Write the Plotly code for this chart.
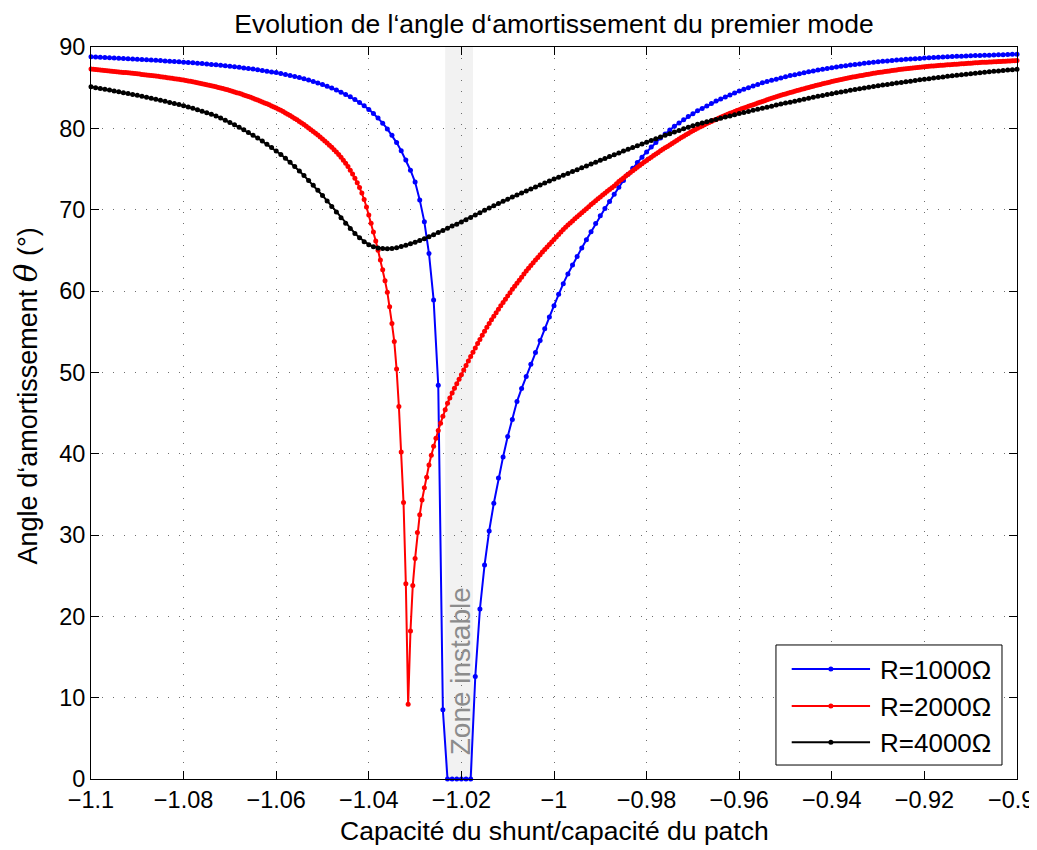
import numpy as np
import plotly.graph_objects as go

# abscissa grid: capacite du shunt / capacite du patch
X_START = -1.1
STEP = 0.001          # R=1000 and R=4000 curves
STEP_FINE = 0.0005    # R=2000 curve is sampled twice as finely

# damping angle (deg), R = 1000 Ohm
blue = [
    88.80, 88.77, 88.74, 88.71, 88.68, 88.65, 88.62, 88.59, 88.56, 88.53,
    88.50, 88.47, 88.43, 88.40, 88.36, 88.33, 88.29, 88.25, 88.21, 88.18,
    88.14, 88.10, 88.05, 88.01, 87.96, 87.91, 87.86, 87.81, 87.75, 87.69,
    87.63, 87.57, 87.50, 87.43, 87.36, 87.28, 87.20, 87.12, 87.03, 86.94,
    86.85, 86.74, 86.63, 86.51, 86.38, 86.24, 86.09, 85.93, 85.76, 85.58,
    85.38, 85.17, 84.95, 84.71, 84.45, 84.17, 83.87, 83.54, 83.18, 82.78,
    82.33, 81.83, 81.27, 80.64, 79.93, 79.14, 78.25, 77.25, 76.12, 74.85,
    73.40, 71.20, 68.50, 64.60, 58.90, 48.40, 8.50, 0.0, 0.0, 0.0,
    0.0, 0.0, 0.0, 12.60, 20.90, 26.30, 30.50, 33.90, 37.00, 39.60,
    42.10, 44.20, 46.40, 48.00, 49.50, 51.00, 52.45, 53.90, 55.35, 56.80,
    58.20, 59.60, 60.90, 62.10, 63.20, 64.25, 65.30, 66.30, 67.30, 68.30,
    69.25, 70.15, 71.00, 71.90, 72.75, 73.60, 74.35, 75.10, 75.80, 76.45,
    77.10, 77.70, 78.25, 78.80, 79.30, 79.80, 80.25, 80.65, 81.05, 81.45,
    81.80, 82.15, 82.45, 82.75, 83.05, 83.35, 83.60, 83.85, 84.10, 84.35,
    84.60, 84.80, 85.00, 85.20, 85.40, 85.60, 85.75, 85.90, 86.05, 86.20,
    86.35, 86.50, 86.60, 86.72, 86.84, 86.95, 87.06, 87.16, 87.26, 87.36,
    87.45, 87.54, 87.62, 87.70, 87.78, 87.85, 87.92, 87.99, 88.06, 88.12,
    88.18, 88.24, 88.29, 88.34, 88.39, 88.44, 88.48, 88.52, 88.56, 88.60,
    88.64, 88.67, 88.70, 88.73, 88.76, 88.79, 88.82, 88.85, 88.87, 88.90,
    88.92, 88.94, 88.96, 88.98, 89.00, 89.02, 89.04, 89.06, 89.08, 89.10,
    89.12,
]

# damping angle (deg), R = 2000 Ohm
red = [
    87.30, 87.27, 87.24, 87.21, 87.18, 87.15, 87.12, 87.09, 87.06, 87.03,
    87.00, 86.97, 86.94, 86.91, 86.88, 86.85, 86.82, 86.79, 86.76, 86.73,
    86.70, 86.67, 86.63, 86.60, 86.56, 86.53, 86.49, 86.46, 86.42, 86.39,
    86.35, 86.31, 86.27, 86.23, 86.19, 86.15, 86.11, 86.07, 86.02, 85.98,
    85.93, 85.88, 85.83, 85.78, 85.72, 85.67, 85.61, 85.55, 85.49, 85.43,
    85.37, 85.31, 85.24, 85.17, 85.10, 85.03, 84.96, 84.89, 84.81, 84.73,
    84.65, 84.57, 84.48, 84.39, 84.30, 84.21, 84.11, 84.01, 83.91, 83.81,
    83.70, 83.59, 83.48, 83.37, 83.25, 83.13, 83.01, 82.89, 82.76, 82.63,
    82.50, 82.36, 82.21, 82.06, 81.90, 81.74, 81.57, 81.40, 81.22, 81.04,
    80.85, 80.66, 80.46, 80.26, 80.05, 79.84, 79.62, 79.40, 79.17, 78.93,
    78.69, 78.44, 78.19, 77.93, 77.66, 77.38, 77.08, 76.77, 76.44, 76.09,
    75.72, 75.32, 74.85, 74.38, 73.87, 73.32, 72.72, 72.05, 71.25, 70.32,
    69.35, 68.32, 67.25, 66.15, 65.00, 63.82, 62.60, 61.25, 59.85, 58.05,
    56.00, 53.80, 50.40, 45.80, 40.20, 34.00, 24.00, 9.20, 18.20, 23.80,
    27.10, 30.30, 32.50, 34.30, 35.80, 37.10, 38.60, 39.80, 40.90, 41.90,
    42.85, 43.75, 44.60, 45.40, 46.20, 46.85, 47.45, 48.05, 48.60, 49.15,
    49.70, 50.28, 50.85, 51.40, 51.95, 52.48, 53.00, 53.53, 54.05, 54.55,
    55.05, 55.53, 56.00, 56.45, 56.90, 57.33, 57.75, 58.18, 58.60, 59.00,
    59.40, 59.80, 60.20, 60.58, 60.95, 61.33, 61.70, 62.08, 62.45, 62.80,
    63.15, 63.48, 63.80, 64.13, 64.45, 64.78, 65.10, 65.41, 65.72, 66.03,
    66.34, 66.65, 66.95, 67.25, 67.55, 67.83, 68.10, 68.36, 68.62, 68.87,
    69.12, 69.37, 69.62, 69.87, 70.12, 70.37, 70.62, 70.86, 71.10, 71.33,
    71.56, 71.79, 72.02, 72.25, 72.47, 72.69, 72.91, 73.18, 73.45, 73.68,
    73.90, 74.13, 74.35, 74.58, 74.80, 75.01, 75.22, 75.43, 75.64, 75.85,
    76.05, 76.25, 76.45, 76.65, 76.85, 77.04, 77.23, 77.42, 77.60, 77.78,
    77.96, 78.14, 78.32, 78.50, 78.68, 78.86, 79.03, 79.20, 79.37, 79.54,
    79.70, 79.85, 80.00, 80.15, 80.30, 80.44, 80.58, 80.72, 80.85, 80.98,
    81.10, 81.23, 81.35, 81.48, 81.60, 81.72, 81.84, 81.96, 82.07, 82.19,
    82.30, 82.40, 82.50, 82.60, 82.70, 82.80, 82.90, 83.00, 83.10, 83.20,
    83.30, 83.40, 83.50, 83.60, 83.70, 83.79, 83.88, 83.97, 84.06, 84.15,
    84.23, 84.32, 84.40, 84.48, 84.56, 84.64, 84.72, 84.80, 84.88, 84.96,
    85.03, 85.11, 85.18, 85.26, 85.33, 85.40, 85.47, 85.54, 85.61, 85.68,
    85.75, 85.82, 85.88, 85.94, 86.00, 86.06, 86.12, 86.18, 86.24, 86.30,
    86.35, 86.41, 86.46, 86.51, 86.56, 86.61, 86.66, 86.71, 86.76, 86.81,
    86.85, 86.90, 86.94, 86.98, 87.02, 87.06, 87.10, 87.14, 87.18, 87.22,
    87.25, 87.29, 87.32, 87.36, 87.39, 87.42, 87.45, 87.48, 87.51, 87.54,
    87.57, 87.60, 87.62, 87.65, 87.67, 87.70, 87.72, 87.75, 87.77, 87.79,
    87.81, 87.83, 87.85, 87.87, 87.89, 87.91, 87.93, 87.95, 87.97, 87.99,
    88.01, 88.03, 88.05, 88.07, 88.09, 88.11, 88.12, 88.14, 88.15, 88.17,
    88.18, 88.20, 88.21, 88.23, 88.24, 88.26, 88.27, 88.29, 88.30, 88.32,
    88.33,
]

# damping angle (deg), R = 4000 Ohm
black = [
    85.10, 85.00, 84.90, 84.80, 84.70, 84.60, 84.50, 84.39, 84.28, 84.17,
    84.06, 83.94, 83.82, 83.70, 83.58, 83.45, 83.32, 83.19, 83.06, 82.92,
    82.78, 82.62, 82.46, 82.29, 82.11, 81.93, 81.74, 81.52, 81.27, 81.00,
    80.72, 80.43, 80.13, 79.82, 79.50, 79.16, 78.80, 78.43, 78.04, 77.64,
    77.22, 76.78, 76.31, 75.82, 75.30, 74.76, 74.19, 73.60, 73.00, 72.38,
    71.74, 71.08, 70.40, 69.70, 69.00, 68.32, 67.68, 67.08, 66.54, 66.07,
    65.70, 65.45, 65.30, 65.22, 65.20, 65.24, 65.33, 65.46, 65.62, 65.80,
    66.00, 66.21, 66.43, 66.67, 66.92, 67.18, 67.45, 67.72, 67.98, 68.22,
    68.47, 68.75, 69.05, 69.34, 69.63, 69.92, 70.20, 70.48, 70.75, 71.02,
    71.29, 71.55, 71.80, 72.05, 72.30, 72.55, 72.80, 73.04, 73.28, 73.52,
    73.76, 74.00, 74.23, 74.46, 74.69, 74.92, 75.15, 75.38, 75.61, 75.84,
    76.07, 76.30, 76.53, 76.76, 76.98, 77.20, 77.42, 77.64, 77.86, 78.08,
    78.30, 78.51, 78.72, 78.93, 79.14, 79.34, 79.54, 79.74, 79.94, 80.14,
    80.33, 80.50, 80.65, 80.80, 80.95, 81.10, 81.25, 81.39, 81.53, 81.67,
    81.81, 81.95, 82.08, 82.21, 82.34, 82.47, 82.60, 82.73, 82.86, 82.98,
    83.10, 83.22, 83.34, 83.46, 83.58, 83.70, 83.82, 83.93, 84.04, 84.15,
    84.26, 84.37, 84.47, 84.57, 84.67, 84.77, 84.87, 84.96, 85.05, 85.14,
    85.23, 85.32, 85.40, 85.48, 85.56, 85.64, 85.72, 85.80, 85.88, 85.96,
    86.04, 86.11, 86.18, 86.25, 86.32, 86.39, 86.46, 86.53, 86.60, 86.66,
    86.72, 86.78, 86.84, 86.90, 86.96, 87.01, 87.06, 87.11, 87.16, 87.21,
    87.26,
]

series_names = ["R=1000Ω", "R=2000Ω", "R=4000Ω"]
series_colors = ["#0000ff", "#ff0000", "#000000"]

unstable_zone = [-1.0235, -1.0175]

x_ticks = [-1.1, -1.08, -1.06, -1.04, -1.02, -1.0, -0.98, -0.96, -0.94, -0.92, -0.9]
x_tick_text = ["−1.1", "−1.08", "−1.06", "−1.04", "−1.02", "−1",
               "−0.98", "−0.96", "−0.94", "−0.92", "−0.9"]
y_ticks = [0, 10, 20, 30, 40, 50, 60, 70, 80, 90]

FONT = "Liberation Sans, Arial, Helvetica, sans-serif"
TICK_SIZE = 23.5

# the page body adds an 8px margin, so the figure is 8px smaller than the window
FIG_W, FIG_H = 1029, 842


def grid_for(values, step):
    return np.round(X_START + step * np.arange(len(values)), 6)


fig = go.Figure()

# shaded band for the unstable zone
fig.add_shape(type="rect", xref="x", yref="y",
              x0=unstable_zone[0], x1=unstable_zone[1], y0=0, y1=90,
              fillcolor="#f2f2f2", line=dict(width=0), layer="below")

for values, step, name, color in zip([blue, red, black], [STEP, STEP_FINE, STEP],
                                      series_names, series_colors):
    fig.add_trace(go.Scatter(
        x=grid_for(values, step), y=values,
        mode="lines+markers",
        name=name,
        line=dict(color=color, width=2),
        marker=dict(color=color, size=5),
        cliponaxis=False,
        showlegend=False))

fig.add_annotation(x=-1.0202, y=13.3, xref="x", yref="y",
                   text="Zone instable", textangle=-90, showarrow=False,
                   font=dict(size=28, color="#8c8c8c", family=FONT))

# MATLAB style legend box, bottom right
box_x0, box_x1 = 0.7397, 0.9838
box_y0, box_y1 = 0.0191, 0.1831
rows_y = [0.1503, 0.0997, 0.0501]
fig.add_shape(type="rect", xref="paper", yref="paper",
              x0=box_x0, x1=box_x1, y0=box_y0, y1=box_y1,
              fillcolor="white", line=dict(color="black", width=1), layer="above")
for ry, name, color in zip(rows_y, series_names, series_colors):
    fig.add_shape(type="line", xref="paper", yref="paper",
                  x0=0.7567, x1=0.8413, y0=ry, y1=ry,
                  line=dict(color=color, width=2), layer="above")
    fig.add_shape(type="circle", xref="paper", yref="paper",
                  xsizemode="pixel", ysizemode="pixel",
                  xanchor=0.7990, yanchor=ry, x0=-2.5, x1=2.5, y0=-2.5, y1=2.5,
                  fillcolor=color, line=dict(color=color, width=0), layer="above")
    fig.add_annotation(x=0.8499, y=ry, xref="paper", yref="paper",
                       text=name, showarrow=False, xanchor="left", yanchor="middle",
                       yshift=-1, font=dict(size=26, color="black", family=FONT))

# axis titles
fig.add_annotation(x=0.5, y=-0.071, xref="paper", yref="paper",
                   text="Capacité du shunt/capacité du patch", showarrow=False,
                   xanchor="center", yanchor="middle",
                   font=dict(size=26.5, color="black", family=FONT))
fig.add_annotation(x=-0.0702, y=0.524, xref="paper", yref="paper",
                   text="Angle d‘amortissement "
                        "<span style='font-family:DejaVu Serif;font-size:31px'><i>θ</i></span> (°)",
                   textangle=-90, showarrow=False, xanchor="center", yanchor="middle",
                   font=dict(size=27, color="black", family=FONT))

axis_common = dict(
    showline=True, linecolor="black", linewidth=1, mirror="allticks",
    ticks="inside", ticklen=8, tickcolor="black", tickwidth=1,
    showgrid=True, gridcolor="#6e6e6e", gridwidth=1, griddash="1px,10px",
    zeroline=False, automargin=False,
    tickfont=dict(size=TICK_SIZE, color="black", family=FONT),
)

# the last x label would run past the page edge, so it is drawn as an annotation
# nudged a few pixels left (as in the original figure)
fig.update_xaxes(range=[-1.1, -0.9], autorange=False,
                 tickvals=x_ticks, ticktext=x_tick_text[:-1] + [""], **axis_common)
fig.update_yaxes(range=[0, 90], autorange=False, tickvals=y_ticks, **axis_common)

fig.add_annotation(x=x_ticks[-1], y=-0.0287, xref="x", yref="paper",
                   text=x_tick_text[-1], showarrow=False,
                   xanchor="center", yanchor="middle", xshift=-6,
                   font=dict(size=TICK_SIZE, color="black", family=FONT))

fig.update_layout(
    width=FIG_W, height=FIG_H,
    margin=dict(l=83, r=20, t=39, b=71),
    plot_bgcolor="white", paper_bgcolor="white",
    font=dict(family=FONT, size=26, color="black"),
    title=dict(text="Evolution de l‘angle d‘amortissement du premier mode",
               x=0.5, xref="paper", xanchor="center",
               y=1 - 15.5 / FIG_H, yref="container", yanchor="middle",
               font=dict(size=26.5, color="black", family=FONT)),
    showlegend=False,
)

fig.write_html("out.html")
